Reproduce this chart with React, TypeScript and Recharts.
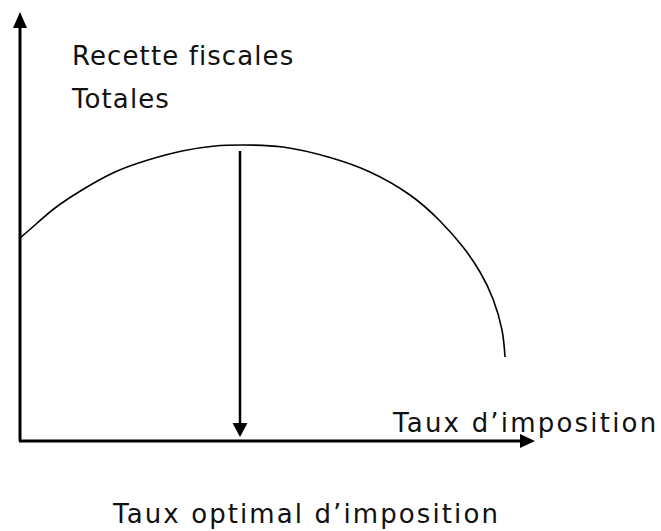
import { Customized, Line, LineChart, ReferenceLine, XAxis, YAxis } from "recharts";

// Laffer curve sketch, arbitrary units (x: tax rate, y: total tax revenue)
const RATES = [0, 15, 35, 62, 95, 128, 162, 195, 222, 263, 310, 350, 390, 420, 443, 460, 473, 482, 485];
const REVENUES = [203, 216, 233, 251, 269, 281, 290, 295, 296, 294, 283.5, 269, 246, 220, 194, 169, 142, 111, 84];

const X_MAX = 515;
const Y_MAX = 429;
const OPTIMAL_RATE = 220;
const OPTIMAL_TOP = 290;
const OPTIMAL_BOTTOM = 4;

const Y_LABEL = ["Recette fiscales", "Totales"];
const X_LABEL = "Taux d\u2019imposition";
const OPTIMAL_LABEL = "Taux optimal d\u2019imposition";

const data = RATES.map((rate, i) => ({ rate, revenue: REVENUES[i] }));

const FONT = "'DejaVu Sans', sans-serif";

function arrowShape(headLen: number, halfWidth: number, width: number) {
  return (props: any) => {
    const { x1, y1, x2, y2 } = props;
    const dx = x2 - x1;
    const dy = y2 - y1;
    const len = Math.sqrt(dx * dx + dy * dy) || 1;
    const ux = dx / len;
    const uy = dy / len;
    const bx = x2 - ux * headLen;
    const by = y2 - uy * headLen;
    const px = -uy * halfWidth;
    const py = ux * halfWidth;
    return (
      <g>
        <line x1={x1} y1={y1} x2={bx} y2={by} stroke="#000" strokeWidth={width} />
        <polygon points={`${x2},${y2} ${bx + px},${by + py} ${bx - px},${by - py}`} fill="#000" />
      </g>
    );
  };
}

function Labels() {
  return (
    <g fontFamily={FONT} fontSize={26} fill="#111">
      <text x={72} y={65} letterSpacing={1.1}>{Y_LABEL[0]}</text>
      <text x={72} y={108} letterSpacing={1.1}>{Y_LABEL[1]}</text>
      <text x={393} y={432} letterSpacing={2.2}>{X_LABEL}</text>
      <text x={113} y={523} letterSpacing={2.1}>{OPTIMAL_LABEL}</text>
    </g>
  );
}

export default function App() {
  return (
    <div style={{ position: "absolute", left: 0, top: 0, background: "#fff" }}>
      <LineChart
        width={661}
        height={531}
        data={data}
        margin={{ top: 12, right: 126, bottom: 90, left: 20 }}
      >
        <XAxis type="number" dataKey="rate" domain={[0, X_MAX]} hide />
        <YAxis type="number" domain={[0, Y_MAX]} hide />
        <Line
          type="natural"
          dataKey="revenue"
          stroke="#000"
          strokeWidth={1.6}
          dot={false}
          activeDot={false}
          isAnimationActive={false}
        />
        <ReferenceLine
          segment={[{ x: 0, y: 0 }, { x: 0, y: Y_MAX }]}
          ifOverflow="visible"
          shape={arrowShape(16, 7, 3)}
        />
        <ReferenceLine
          segment={[{ x: -1, y: 0 }, { x: X_MAX, y: 0 }]}
          ifOverflow="visible"
          shape={arrowShape(15, 7, 3)}
        />
        <ReferenceLine
          segment={[{ x: OPTIMAL_RATE, y: OPTIMAL_TOP }, { x: OPTIMAL_RATE, y: OPTIMAL_BOTTOM }]}
          ifOverflow="visible"
          shape={arrowShape(14, 7.5, 2.5)}
        />
        <Customized component={<Labels />} />
      </LineChart>
    </div>
  );
}
